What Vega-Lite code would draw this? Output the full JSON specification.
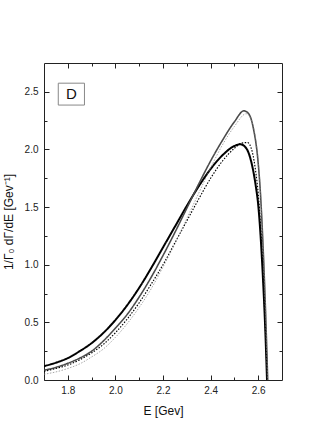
{
  "$schema": "https://vega.github.io/schema/vega-lite/v6.json",
  "width": 238,
  "height": 317,
  "autosize": {"type": "none"},
  "padding": {"left": 44, "top": 63, "right": 28, "bottom": 68},
  "background": "white",
  "config": {
    "view": {"stroke": "#222", "strokeWidth": 1},
    "font": "Liberation Sans",
    "axis": {"domain": false, "grid": false, "labelFont": "Liberation Sans", "labelFontSize": 10, "labelColor": "#222", "titleFont": "Liberation Sans", "titleFontWeight": "normal", "titleFontSize": 12, "titleColor": "#111", "tickColor": "#222"}
  },
  "datasets": {
    "curves": [
      {"E": 1.70, "v": 0.12, "s": "A"}, {"E": 1.75, "v": 0.15, "s": "A"}, {"E": 1.80, "v": 0.19, "s": "A"}, {"E": 1.85, "v": 0.25, "s": "A"}, {"E": 1.90, "v": 0.32, "s": "A"}, {"E": 1.95, "v": 0.41, "s": "A"}, {"E": 2.00, "v": 0.52, "s": "A"}, {"E": 2.05, "v": 0.65, "s": "A"}, {"E": 2.10, "v": 0.80, "s": "A"}, {"E": 2.15, "v": 0.97, "s": "A"}, {"E": 2.20, "v": 1.15, "s": "A"}, {"E": 2.25, "v": 1.33, "s": "A"}, {"E": 2.30, "v": 1.51, "s": "A"}, {"E": 2.35, "v": 1.68, "s": "A"}, {"E": 2.40, "v": 1.83, "s": "A"}, {"E": 2.45, "v": 1.95, "s": "A"}, {"E": 2.50, "v": 2.03, "s": "A"}, {"E": 2.525, "v": 2.045, "s": "A"}, {"E": 2.55, "v": 2.01, "s": "A"}, {"E": 2.57, "v": 1.90, "s": "A"}, {"E": 2.59, "v": 1.68, "s": "A"}, {"E": 2.60, "v": 1.52, "s": "A"}, {"E": 2.61, "v": 1.25, "s": "A"}, {"E": 2.62, "v": 0.88, "s": "A"}, {"E": 2.63, "v": 0.42, "s": "A"}, {"E": 2.637, "v": 0.0, "s": "A"},
      {"E": 1.70, "v": 0.085, "s": "B"}, {"E": 1.75, "v": 0.11, "s": "B"}, {"E": 1.80, "v": 0.145, "s": "B"}, {"E": 1.85, "v": 0.19, "s": "B"}, {"E": 1.90, "v": 0.25, "s": "B"}, {"E": 1.95, "v": 0.34, "s": "B"}, {"E": 2.00, "v": 0.45, "s": "B"}, {"E": 2.05, "v": 0.57, "s": "B"}, {"E": 2.10, "v": 0.72, "s": "B"}, {"E": 2.15, "v": 0.89, "s": "B"}, {"E": 2.20, "v": 1.08, "s": "B"}, {"E": 2.25, "v": 1.28, "s": "B"}, {"E": 2.30, "v": 1.49, "s": "B"}, {"E": 2.35, "v": 1.70, "s": "B"}, {"E": 2.40, "v": 1.90, "s": "B"}, {"E": 2.45, "v": 2.08, "s": "B"}, {"E": 2.50, "v": 2.24, "s": "B"}, {"E": 2.54, "v": 2.335, "s": "B"}, {"E": 2.56, "v": 2.31, "s": "B"}, {"E": 2.58, "v": 2.18, "s": "B"}, {"E": 2.60, "v": 1.88, "s": "B"}, {"E": 2.61, "v": 1.60, "s": "B"}, {"E": 2.62, "v": 1.18, "s": "B"}, {"E": 2.63, "v": 0.65, "s": "B"}, {"E": 2.64, "v": 0.0, "s": "B"},
      {"E": 1.70, "v": 0.075, "s": "C"}, {"E": 1.75, "v": 0.10, "s": "C"}, {"E": 1.80, "v": 0.13, "s": "C"}, {"E": 1.85, "v": 0.175, "s": "C"}, {"E": 1.90, "v": 0.235, "s": "C"}, {"E": 1.95, "v": 0.31, "s": "C"}, {"E": 2.00, "v": 0.41, "s": "C"}, {"E": 2.05, "v": 0.53, "s": "C"}, {"E": 2.10, "v": 0.67, "s": "C"}, {"E": 2.15, "v": 0.83, "s": "C"}, {"E": 2.20, "v": 1.00, "s": "C"}, {"E": 2.25, "v": 1.19, "s": "C"}, {"E": 2.30, "v": 1.38, "s": "C"}, {"E": 2.35, "v": 1.57, "s": "C"}, {"E": 2.40, "v": 1.75, "s": "C"}, {"E": 2.45, "v": 1.90, "s": "C"}, {"E": 2.50, "v": 2.01, "s": "C"}, {"E": 2.53, "v": 2.055, "s": "C"}, {"E": 2.555, "v": 2.06, "s": "C"}, {"E": 2.575, "v": 1.98, "s": "C"}, {"E": 2.59, "v": 1.80, "s": "C"}, {"E": 2.60, "v": 1.62, "s": "C"}, {"E": 2.61, "v": 1.33, "s": "C"}, {"E": 2.62, "v": 0.93, "s": "C"}, {"E": 2.63, "v": 0.45, "s": "C"}, {"E": 2.638, "v": 0.0, "s": "C"},
      {"E": 1.70, "v": 0.05, "s": "D"}, {"E": 1.75, "v": 0.07, "s": "D"}, {"E": 1.80, "v": 0.10, "s": "D"}, {"E": 1.85, "v": 0.14, "s": "D"}, {"E": 1.90, "v": 0.20, "s": "D"}, {"E": 1.95, "v": 0.27, "s": "D"}, {"E": 2.00, "v": 0.37, "s": "D"}, {"E": 2.05, "v": 0.49, "s": "D"}, {"E": 2.10, "v": 0.63, "s": "D"}, {"E": 2.15, "v": 0.79, "s": "D"}, {"E": 2.20, "v": 0.98, "s": "D"}, {"E": 2.25, "v": 1.18, "s": "D"}, {"E": 2.30, "v": 1.40, "s": "D"}, {"E": 2.35, "v": 1.62, "s": "D"}, {"E": 2.40, "v": 1.84, "s": "D"}, {"E": 2.45, "v": 2.04, "s": "D"}, {"E": 2.50, "v": 2.20, "s": "D"}, {"E": 2.55, "v": 2.31, "s": "D"}, {"E": 2.57, "v": 2.26, "s": "D"}, {"E": 2.59, "v": 2.08, "s": "D"}, {"E": 2.60, "v": 1.90, "s": "D"}, {"E": 2.61, "v": 1.62, "s": "D"}, {"E": 2.62, "v": 1.20, "s": "D"}, {"E": 2.63, "v": 0.68, "s": "D"}, {"E": 2.64, "v": 0.0, "s": "D"}
    ],
    "label": [{"x1": 1.76, "x2": 1.87, "y1": 2.385, "y2": 2.575, "xm": 1.815, "ym": 2.48, "t": "D"}]
  },
  "resolve": {"axis": {"x": "independent", "y": "independent"}},
  "layer": [
    {
      "data": {"name": "curves"},
      "mark": {"type": "line", "interpolate": "monotone", "clip": true},
      "encoding": {
        "x": {"field": "E", "type": "quantitative", "scale": {"domain": [1.7, 2.7], "nice": false, "zero": false},
              "axis": {"orient": "bottom", "title": "E [Gev]", "values": [1.8, 2.0, 2.2, 2.4, 2.6], "format": ".1f", "tickSize": -5, "labelPadding": 10, "titlePadding": 10}},
        "y": {"field": "v", "type": "quantitative", "scale": {"domain": [0, 2.75], "nice": false},
              "axis": {"orient": "left", "title": "1/Γ₀ dΓ/dE [Gev⁻¹]", "values": [0, 0.5, 1.0, 1.5, 2.0, 2.5], "format": ".1f", "tickSize": -5, "labelPadding": 11, "titlePadding": 9}},
        "detail": {"field": "s"},
        "color": {"field": "s", "type": "nominal", "scale": {"domain": ["A", "B", "C", "D"], "range": ["#000000", "#4a4a4a", "#000000", "#808080"]}, "legend": null},
        "strokeWidth": {"field": "s", "type": "nominal", "scale": {"domain": ["A", "B", "C", "D"], "range": [2, 0.7, 2, 0.8]}, "legend": null},
        "strokeDash": {"field": "s", "type": "nominal", "scale": {"domain": ["A", "B", "C", "D"], "range": [[1, 0], [1, 0], [1.5, 1.5], [1.5, 1.5]]}, "legend": null}
      }
    },
    {
      "data": {"name": "curves"},
      "mark": {"type": "point", "opacity": 0},
      "encoding": {
        "x": {"field": "E", "type": "quantitative", "scale": {"domain": [1.7, 2.7], "nice": false, "zero": false},
              "axis": {"orient": "top", "title": null, "labels": false, "values": [1.8, 2.0, 2.2, 2.4, 2.6], "tickSize": -5}},
        "y": {"field": "v", "type": "quantitative", "scale": {"domain": [0, 2.75], "nice": false},
              "axis": {"orient": "right", "title": null, "labels": false, "values": [0.5, 1.0, 1.5, 2.0, 2.5], "tickSize": -5}}
      }
    },
    {
      "data": {"name": "curves"},
      "mark": {"type": "point", "opacity": 0},
      "encoding": {
        "x": {"field": "E", "type": "quantitative", "scale": {"domain": [1.7, 2.7], "nice": false, "zero": false},
              "axis": {"orient": "bottom", "title": null, "labels": false, "values": [1.9, 2.1, 2.3, 2.5], "tickSize": -3}},
        "y": {"field": "v", "type": "quantitative", "scale": {"domain": [0, 2.75], "nice": false},
              "axis": {"orient": "left", "title": null, "labels": false, "values": [0.25, 0.75, 1.25, 1.75, 2.25], "tickSize": -3}}
      }
    },
    {
      "data": {"name": "curves"},
      "mark": {"type": "point", "opacity": 0},
      "encoding": {
        "x": {"field": "E", "type": "quantitative", "scale": {"domain": [1.7, 2.7], "nice": false, "zero": false},
              "axis": {"orient": "top", "title": null, "labels": false, "values": [1.9, 2.1, 2.3, 2.5], "tickSize": -3}},
        "y": {"field": "v", "type": "quantitative", "scale": {"domain": [0, 2.75], "nice": false},
              "axis": {"orient": "right", "title": null, "labels": false, "values": [0.25, 0.75, 1.25, 1.75, 2.25], "tickSize": -3}}
      }
    },
    {
      "data": {"name": "label"},
      "mark": {"type": "rect", "fill": "white", "stroke": "#888888", "strokeWidth": 1},
      "encoding": {
        "x": {"field": "x1", "type": "quantitative", "axis": null},
        "x2": {"field": "x2"},
        "y": {"field": "y1", "type": "quantitative", "axis": null},
        "y2": {"field": "y2"}
      }
    },
    {
      "data": {"name": "label"},
      "mark": {"type": "text", "fontSize": 15, "font": "Liberation Sans", "color": "#111", "align": "center", "baseline": "middle"},
      "encoding": {
        "x": {"field": "xm", "type": "quantitative", "axis": null},
        "y": {"field": "ym", "type": "quantitative", "axis": null},
        "text": {"field": "t"}
      }
    }
  ]
}
